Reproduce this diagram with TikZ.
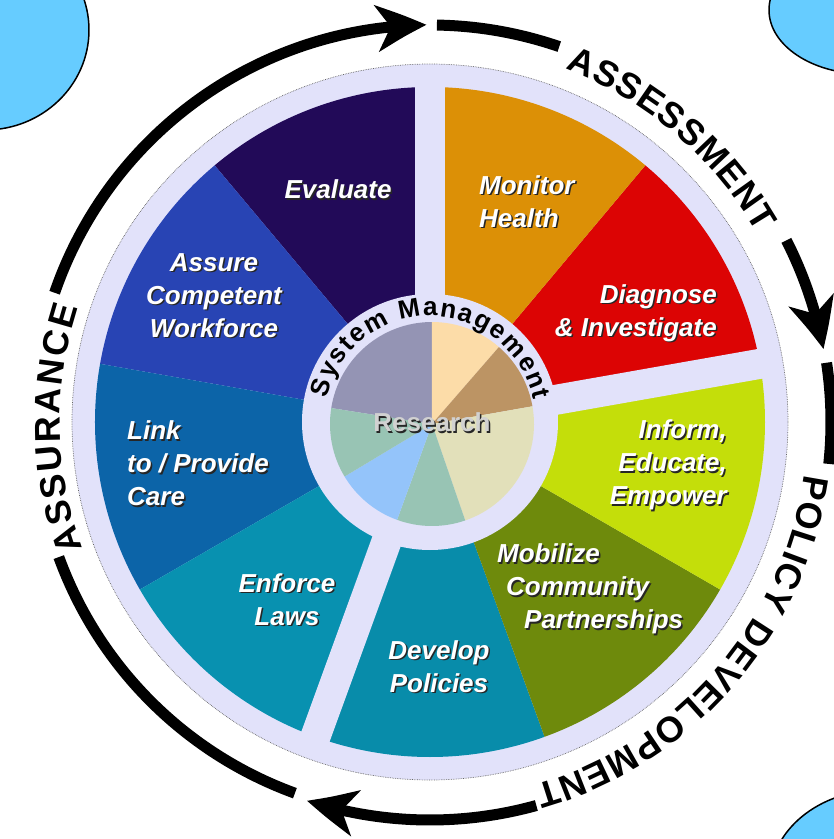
\documentclass[tikz,border=0pt]{standalone}
\usepackage{fontspec}
\setmainfont{Liberation Sans}
\usetikzlibrary{arrows.meta,bending,decorations.text}

\definecolor{ring}{RGB}{226,226,250}
\definecolor{blob}{RGB}{102,204,255}
\definecolor{evalc}{RGB}{34,10,88}
\definecolor{assurec}{RGB}{40,68,180}
\definecolor{linkc}{RGB}{12,100,168}
\definecolor{enforcec}{RGB}{8,145,176}
\definecolor{developc}{RGB}{8,140,170}
\definecolor{mobilizec}{RGB}{110,138,12}
\definecolor{informc}{RGB}{196,222,10}
\definecolor{diagnosec}{RGB}{220,4,4}
\definecolor{monitorc}{RGB}{220,144,6}
\definecolor{hubviolet}{RGB}{148,148,180}
\definecolor{hubpeach}{RGB}{252,220,168}
\definecolor{hubtan}{RGB}{188,148,100}
\definecolor{hubbeige}{RGB}{226,224,186}
\definecolor{hubsage}{RGB}{152,196,180}
\definecolor{hubsky}{RGB}{148,196,250}

% white letters with a dark drop shadow
\newcommand{\emb}[1]{\leavevmode\rlap{\kern1.5pt\raisebox{-1.5pt}{\color{black!85}#1}}#1}
\newcommand{\phasefont}{\fontsize{36}{36}\selectfont\bfseries}

\tikzset{
  seglabel/.style={text=white,inner sep=0pt,
    font=\bfseries\itshape\fontsize{26}{33}\selectfont},
  phase/.style={decorate,decoration={text along path,
    text align={fit to path},text={#1}}},
  cycle arrow/.style={line width=11pt,
    -{Stealth[length=50pt,width=46pt,inset=14pt,bend]}},
  cycle line/.style={line width=11pt},
}

\begin{document}
\begin{tikzpicture}[x=1pt,y=1pt,line join=round]
  \clip (-430,-417) rectangle (404,422);

  % corner blobs
  \draw[fill=blob,line width=1.5pt] (-445,392) ellipse [x radius=104,y radius=100];
  \draw[fill=blob,line width=1.5pt] (435,412) ellipse [x radius=96,y radius=64];
  \draw[fill=blob,line width=1.5pt] (450,-458) ellipse [x radius=110,y radius=90];

  % wheel
  \fill[ring] (0,0) circle (358);
  \draw[black!60,line width=0.7pt,densely dotted] (0,0) circle (358);
  \foreach \a/\c in {10/diagnosec,50/monitorc,90/evalc,130/assurec,170/linkc,
                     210/enforcec,250/developc,290/mobilizec,330/informc}
    \fill[\c] (0,0) -- (\a:335) arc[start angle=\a,end angle=\a+40,radius=335] -- cycle;
  \foreach \g in {10,90,250}
    \draw[ring,line width=30pt] (0,0) -- (\g:345);
  \fill[ring] (0,0) circle (128);

  % research pie
  \begin{scope}[shift={(2,-2)}]
    \foreach \a/\b/\c in {90/171/hubviolet,49/90/hubpeach,10/49/hubtan,-71/10/hubbeige,
                          -110/-71/hubsage,-149/-110/hubsky,171/211/hubsage}
      \fill[\c] (0,0) -- (\a:102) arc[start angle=\a,end angle=\b,radius=102] -- cycle;
  \end{scope}

  \path[phase={|\fontsize{26}{26}\selectfont\bfseries|System Management}]
    (167:106) arc[start angle=167,end angle=12,radius=106];
  \node[seglabel,text=black!18,font=\bfseries\fontsize{26}{26}\selectfont] (research) at (2,-1) {\emb{Research}};

  % the nine services
  \node[seglabel] (evaluate) at (-92,232) {\emb{Evaluate}};
  \node[seglabel,anchor=west,align=left] (monitor) at (49,220) {\emb{Monitor}\\\emb{Health}};
  \node[seglabel,anchor=east,align=right] (diagnose) at (287,108) {\emb{Diagnose}\\\emb{\& Investigate}};
  \node[seglabel,anchor=east,align=right] (inform) at (297,-44) {\emb{Inform,}\\\emb{Educate,}\\\emb{Empower}};
  \node[seglabel,anchor=west,align=left] (mobilize) at (67,-168)
    {\emb{Mobilize}\\\hspace*{9pt}\emb{Community}\\\hspace*{27pt}\emb{Partnerships}};
  \node[seglabel,align=center] (develop) at (9,-245) {\emb{Develop}\\\emb{Policies}};
  \node[seglabel,align=center] (enforce) at (-143,-178) {\emb{Enforce}\\\emb{Laws}};
  \node[seglabel,anchor=west,align=left] (link) at (-303,-42) {\emb{Link}\\\emb{to / Provide}\\\emb{Care}};
  \node[seglabel,align=center] (assure) at (-216,126) {\emb{Assure}\\\emb{Competent}\\\emb{Workforce}};

  % outer cycle
  \draw[cycle arrow] (161:397) arc[start angle=161,end angle=90.5,radius=397];
  \draw[cycle line] (89:397) arc[start angle=89,end angle=71,radius=397];
  \draw[cycle arrow] (27:400) arc[start angle=27,end angle=10.5,radius=400];
  \draw[cycle line] (8.5:401) arc[start angle=8.5,end angle=-6,radius=401];
  \draw[cycle arrow] (-74.5:398) arc[start angle=-74.5,end angle=-108,radius=398];
  \draw[cycle line] (-110:395) arc[start angle=-110,end angle=-160,radius=395];

  \path[phase={|\phasefont|ASSESSMENT}] (69:378) arc[start angle=69,end angle=30,radius=378];
  \path[phase={|\phasefont|POLICY DEVELOPMENT}] (-8:378) arc[start angle=-8,end angle=-74,radius=378];
  \path[phase={|\phasefont|ASSURANCE}] (200:370) arc[start angle=200,end angle=162,radius=370];
\end{tikzpicture}
\end{document}
